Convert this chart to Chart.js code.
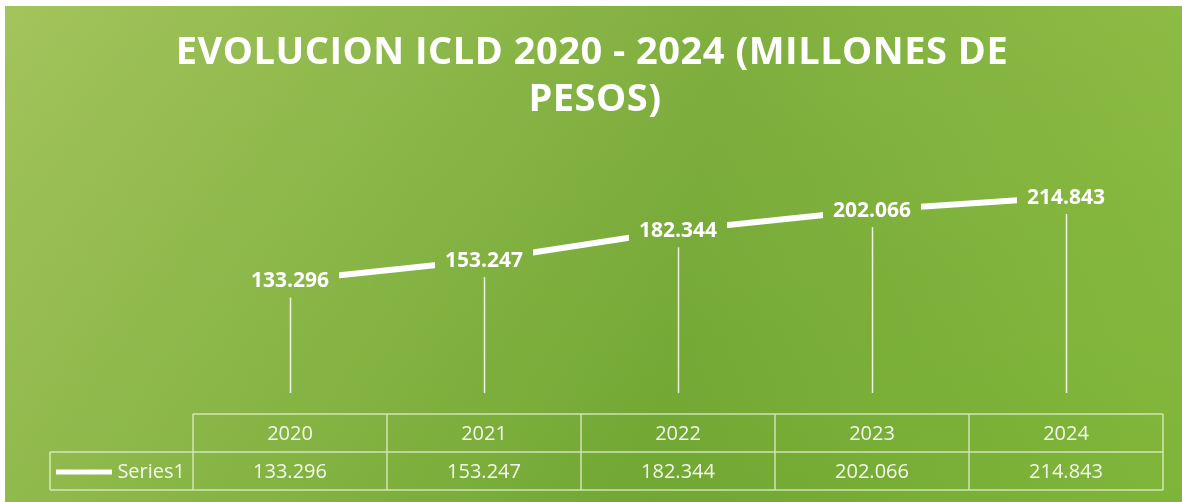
<!DOCTYPE html>
<html>
<head>
<meta charset="utf-8">
<script src="https://cdn.jsdelivr.net/npm/chart.js@4"></script>
<style>
  html, body { margin: 0; padding: 0; background: #ffffff; }
  #wrap { position: absolute; left: 5px; top: 6px; width: 1177px; height: 496px; }
  canvas { display: block; }
</style>
</head>
<body>
<div id="wrap"><canvas id="chart" width="1177" height="496"></canvas></div>
<script>
  var years = ['2020', '2021', '2022', '2023', '2024'];
  var icld = [133.296, 153.247, 182.344, 202.066, 214.843];
  var seriesName = 'Series1';
  var titleLines = ['EVOLUCION ICLD 2020 - 2024 (MILLONES DE', 'PESOS)'];

  function fmt(v) {
    return v.toFixed(3);
  }

  // green card background; also used to clear the area behind the labels
  function paintBg(chart, x, y, w, h) {
    var ctx = chart.ctx;
    var g = ctx.createLinearGradient(0, 0, chart.width, chart.height * 0.35);
    g.addColorStop(0, '#9dc057');
    g.addColorStop(0.3, '#88b546');
    g.addColorStop(0.6, '#74a836');
    g.addColorStop(1, '#83b73c');
    ctx.fillStyle = g;
    ctx.fillRect(x, y, w, h);
    var v = ctx.createLinearGradient(0, 0, 0, chart.height);
    v.addColorStop(0, 'rgba(200,215,120,0.15)');
    v.addColorStop(1, 'rgba(90,160,30,0.12)');
    ctx.fillStyle = v;
    ctx.fillRect(x, y, w, h);
  }

  var backdrop = {
    id: 'backdrop',
    beforeDraw: function(chart) {
      chart.ctx.save();
      paintBg(chart, 0, 0, chart.width, chart.height);
      chart.ctx.restore();
    }
  };

  var titleText = {
    id: 'titleText',
    afterDraw: function(chart) {
      var ctx = chart.ctx;
      ctx.save();
      ctx.fillStyle = '#ffffff';
      ctx.font = 'bold 38px "Open Sans"';
      ctx.letterSpacing = '0.5px';
      ctx.textAlign = 'center';
      ctx.textBaseline = 'middle';
      ctx.fillText(titleLines[0], 587, 47);
      ctx.fillText(titleLines[1], 590, 94);
      ctx.restore();
    }
  };

  // drop lines from each point down to the category axis
  var dropLines = {
    id: 'dropLines',
    beforeDatasetsDraw: function(chart) {
      var ctx = chart.ctx;
      var meta = chart.getDatasetMeta(0);
      var bottom = chart.chartArea.bottom - 24;
      ctx.save();
      ctx.strokeStyle = 'rgba(255,255,255,0.85)';
      ctx.lineWidth = 1.5;
      meta.data.forEach(function(pt) {
        ctx.beginPath();
        ctx.moveTo(Math.round(pt.x) + 0.5, pt.y);
        ctx.lineTo(Math.round(pt.x) + 0.5, bottom);
        ctx.stroke();
      });
      ctx.restore();
    }
  };

  // value labels sitting on the points with a filled box
  var pointLabels = {
    id: 'pointLabels',
    afterDatasetsDraw: function(chart) {
      var ctx = chart.ctx;
      var meta = chart.getDatasetMeta(0);
      ctx.save();
      ctx.font = 'bold 21px "Open Sans"';
      meta.data.forEach(function(pt, i) {
        var txt = fmt(icld[i]);
        var w = ctx.measureText(txt).width + 20;
        paintBg(chart, pt.x - w / 2, pt.y - 17, w, 34);
        ctx.fillStyle = '#ffffff';
        ctx.textAlign = 'center';
        ctx.textBaseline = 'middle';
        ctx.fillText(txt, pt.x, pt.y + 1);
      });
      ctx.restore();
    }
  };

  // data table under the plot
  var dataTable = {
    id: 'dataTable',
    afterDraw: function(chart) {
      var ctx = chart.ctx;
      var x = chart.scales.x;
      var colW = x.getPixelForValue(1) - x.getPixelForValue(0);
      var left = x.left, right = x.right;
      var top = chart.chartArea.bottom - 3;
      var rowH = 38;
      var keyLeft = 45;
      ctx.save();
      ctx.strokeStyle = 'rgba(235,245,220,0.75)';
      ctx.lineWidth = 1.5;
      ctx.beginPath();
      ctx.moveTo(left, top); ctx.lineTo(right, top);
      ctx.moveTo(keyLeft, top + rowH); ctx.lineTo(right, top + rowH);
      ctx.moveTo(keyLeft, top + 2 * rowH); ctx.lineTo(right, top + 2 * rowH);
      ctx.moveTo(keyLeft, top + rowH); ctx.lineTo(keyLeft, top + 2 * rowH);
      for (var i = 0; i <= years.length; i++) {
        var cx = left + i * colW;
        ctx.moveTo(cx, top); ctx.lineTo(cx, top + 2 * rowH);
      }
      ctx.stroke();

      ctx.fillStyle = '#f4f8ec';
      ctx.font = '20px "Open Sans"';
      ctx.textAlign = 'center';
      ctx.textBaseline = 'middle';
      years.forEach(function(y, i) {
        var cx = x.getPixelForValue(i);
        ctx.fillText(y, cx, top + rowH / 2 + 1);
        ctx.fillText(fmt(icld[i]), cx, top + rowH * 1.5 + 1);
      });

      ctx.textAlign = 'right';
      ctx.fillText(seriesName, left - 8, top + rowH * 1.5 + 1);
      ctx.strokeStyle = '#ffffff';
      ctx.lineWidth = 5;
      ctx.beginPath();
      ctx.moveTo(51, top + rowH * 1.5 + 1);
      ctx.lineTo(107, top + rowH * 1.5 + 1);
      ctx.stroke();
      ctx.restore();
    }
  };

  var ctx = document.getElementById('chart');
  var chart = new Chart(ctx, {
    type: 'line',
    data: {
      labels: years,
      datasets: [{
        label: seriesName,
        data: icld,
        borderColor: '#ffffff',
        borderWidth: 6,
        pointRadius: 0,
        tension: 0,
        fill: false
      }]
    },
    options: {
      responsive: false,
      animation: false,
      layout: {
        padding: { left: 188, right: 19, top: 155, bottom: 85 }
      },
      plugins: {
        legend: { display: false },
        tooltip: { enabled: false },
        title: { display: false }
      },
      scales: {
        x: {
          display: false,
          offset: true
        },
        y: {
          display: false,
          min: 0,
          max: 250
        }
      }
    },
    plugins: [backdrop, dropLines, pointLabels, dataTable, titleText]
  });
</script>
</body>
</html>
